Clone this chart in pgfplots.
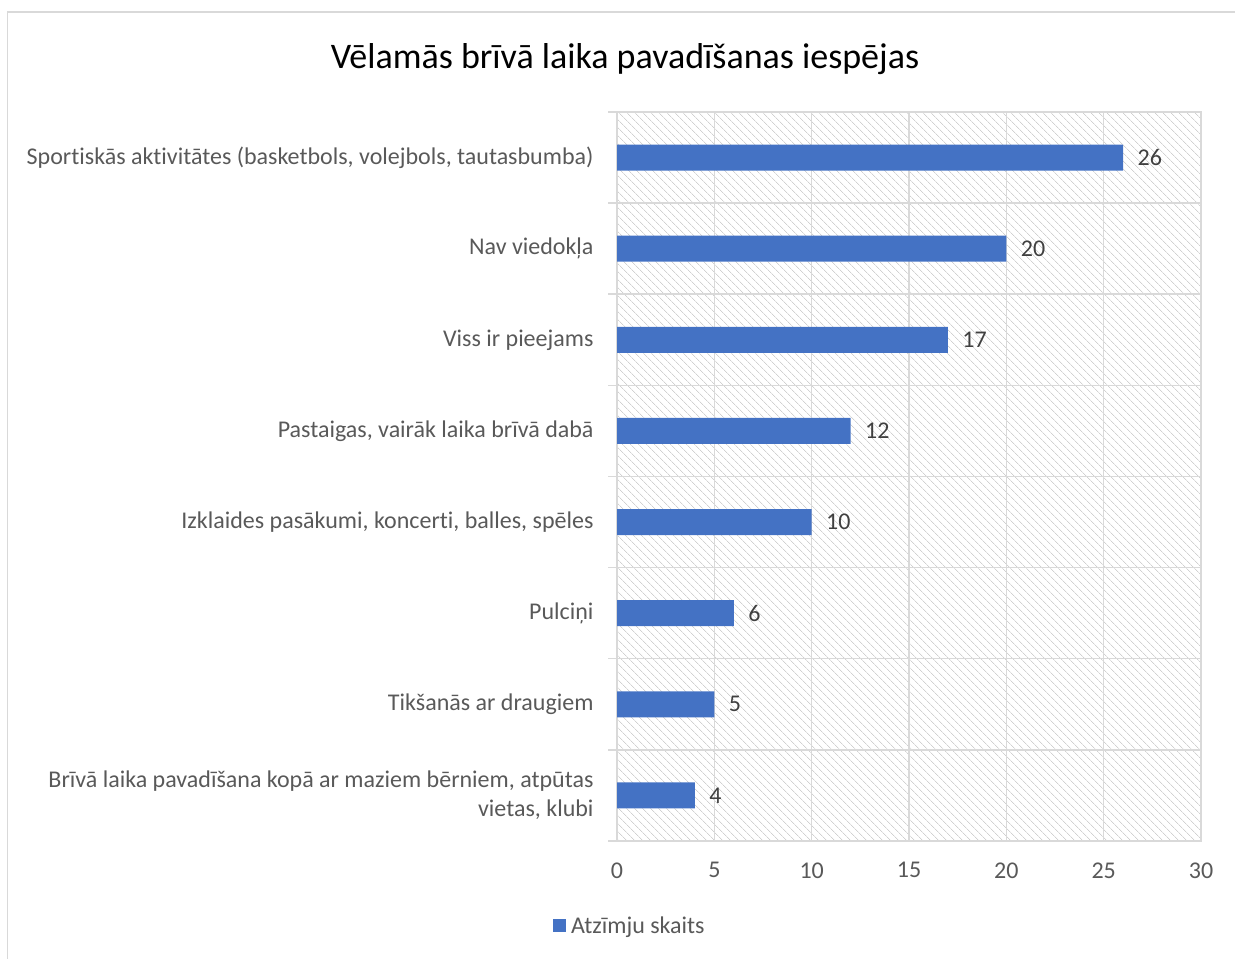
\documentclass[border=0pt]{standalone}
\usepackage{pgfplots}
\pgfplotsset{compat=1.18}
\usetikzlibrary{patterns.meta}
\usepackage{fontspec}
\setmainfont[Ligatures=NoCommon]{Carlito}
\definecolor{barblue}{HTML}{4472C4}
\definecolor{gridgray}{HTML}{D9D9D9}
\definecolor{txtgray}{HTML}{595959}
\definecolor{lblgray}{HTML}{404040}
\begin{document}
\begin{tikzpicture}[x=1bp,y=1bp]
\path[use as bounding box] (0,0) rectangle (1235,959);
\draw[gridgray,line width=1.5bp] (7.5,0) -- (7.5,947) -- (1235,947);
\node[font=\fontsize{36bp}{42bp}\selectfont,text=black] at (625,900) {Vēlamās brīvā laika pavadīšanas iespējas};
\begin{axis}[
  scale only axis, anchor=south west, at={(617bp,118bp)},
  width=584bp, height=729bp,
  xbar, bar width=26bp,
  xmin=0, xmax=30, ymin=-0.5, ymax=7.5,
  xtick={0,5,...,30},
  ytick={0,...,7},
  yticklabels={{Brīvā laika pavadīšana kopā ar maziem bērniem, atpūtas\\vietas, klubi},Tikšanās ar draugiem,Pulciņi,{Izklaides pasākumi, koncerti, balles, spēles},{Pastaigas, vairāk laika brīvā dabā},Viss ir pieejams,Nav viedokļa,{Sportiskās aktivitātes (basketbols, volejbols, tautasbumba)}},
  minor ytick={-0.5,0.5,...,7.5},
  ytick pos=left, xtick pos=bottom,
  major tick length=0pt,
  minor tick length=9bp,
  tick align=outside,
  xmajorgrids, yminorgrids,
  grid style={gridgray,line width=1.5bp},
  minor grid style={gridgray,line width=1.5bp},
  minor tick style={gridgray,line width=1.5bp},
  axis line style={gridgray,line width=1.5bp},
  axis background/.style={pattern={Lines[angle=-45,distance=6bp,line width=1bp]},pattern color=black!18},
  ticklabel style={font=\fontsize{24bp}{29bp}\selectfont,text=txtgray},
  yticklabel style={align=right,xshift=-20bp},
  xticklabel style={yshift=-18bp},
  /pgf/number format/assume math mode=true,
  nodes near coords,
  every node near coord/.append style={font=\fontsize{24bp}{28bp}\selectfont,text=lblgray,anchor=west,xshift=11bp},
  clip=false,
  legend style={at={(0.022,-0.1166)},anchor=center,draw=none,fill=none,font=\fontsize{24bp}{28bp}\selectfont,text=txtgray,inner sep=0pt},
  legend image code/.code={\fill[barblue] (0bp,-6.5bp) rectangle (13bp,6.5bp); \path (16bp,0);},
]
\addplot[fill=barblue,draw=none] coordinates {(4,0) (5,1) (6,2) (10,3) (12,4) (17,5) (20,6) (26,7)};
\addlegendentry{Atzīmju skaits}
\end{axis}
\end{tikzpicture}
\end{document}
